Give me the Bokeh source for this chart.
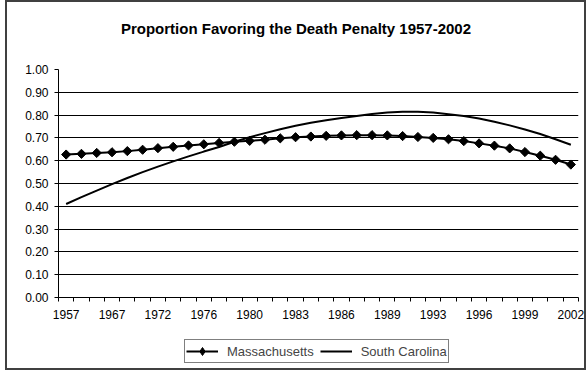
import numpy as np
from bokeh.plotting import figure
from bokeh.layouts import column
from bokeh.models import (FixedTicker, NumeralTickFormatter, Legend, LegendItem,
                          Range1d, ColumnDataSource, InlineStyleSheet, Label,
                          CDSView, IndexFilter)
from bokeh.embed import file_html
from bokeh.resources import INLINE

# Survey years (one category per year with data)
years = [1957, 1960, 1965, 1967, 1969, 1971, 1972, 1973, 1974, 1976, 1977, 1978,
         1980, 1981, 1982, 1983, 1984, 1985, 1986, 1987, 1988, 1989, 1990, 1991,
         1993, 1994, 1995, 1996, 1997, 1998, 1999, 2000, 2001, 2002]
labelled_years = [1957, 1967, 1972, 1976, 1980, 1983, 1986, 1989, 1993, 1996, 1999, 2002]

massachusetts = [0.627, 0.630, 0.634, 0.637, 0.642, 0.648, 0.655, 0.661, 0.667, 0.672,
                 0.678, 0.683, 0.687, 0.692, 0.698, 0.703, 0.706, 0.709, 0.711, 0.712,
                 0.712, 0.711, 0.708, 0.704, 0.700, 0.694, 0.686, 0.676, 0.666, 0.654,
                 0.638, 0.622, 0.604, 0.583]
south_carolina = [0.410, 0.440, 0.469, 0.497, 0.524, 0.550, 0.574, 0.597, 0.619, 0.640,
                  0.660, 0.683, 0.703, 0.721, 0.738, 0.753, 0.766, 0.777, 0.787, 0.796,
                  0.805, 0.811, 0.815, 0.815, 0.811, 0.804, 0.796, 0.785, 0.771, 0.755,
                  0.737, 0.717, 0.694, 0.670]

y_ticks = [0.0, 0.1, 0.2, 0.3, 0.4, 0.5, 0.6, 0.7, 0.8, 0.9, 1.0]

TITLE = "Proportion Favoring the Death Penalty 1957-2002"
FONT = "Liberation Sans"
W = 587
TITLE_H, LEGEND_H = 40, 35
MAIN_H = 370 - TITLE_H - LEGEND_H
BORDER_L, BORDER_R = 58, 9          # plot-area inset, shared by all strips
FRAME_L, FRAME_R = BORDER_L, W - BORDER_R


def bare_figure(height):
    """A frame-only strip (no axes); x units are page pixels."""
    f = figure(width=W, height=height, output_backend="svg", toolbar_location=None,
               x_range=Range1d(FRAME_L, FRAME_R), y_range=Range1d(0, height),
               min_border_left=BORDER_L, min_border_right=BORDER_R,
               min_border_top=0, min_border_bottom=0, outline_line_color=None,
               background_fill_color="white", border_fill_color="white")
    f.axis.visible = False
    f.grid.visible = False
    return f


# ---- title strip
head = bare_figure(TITLE_H)
head.add_layout(Label(x=295.5, y=12, text=TITLE, text_align="center",
                      text_baseline="middle", text_font=FONT, text_font_size="15px",
                      text_font_style="bold", text_color="black"))

# ---- main chart: categories sit at the middle of unit-wide slots
pos = np.arange(len(years)) + 0.5
src = ColumnDataSource(dict(x=pos, year=years, ma=massachusetts, sc=south_carolina))

p = figure(width=W, height=MAIN_H, output_backend="svg", toolbar_location=None,
           x_range=Range1d(0, len(years)), y_range=Range1d(0, 1),
           min_border_left=BORDER_L, min_border_right=BORDER_R, min_border_top=29,
           min_border_bottom=38, outline_line_color=None,
           background_fill_color="white", border_fill_color="white")

p.line("x", "sc", source=src, line_color="black", line_width=2)
p.line("x", "ma", source=src, line_color="black", line_width=2)
p.scatter("x", "ma", source=src, marker="square", angle=np.pi / 4,
          size=6.5, fill_color="black", line_color="black")

# x axis: labels on every third category, tick marks at slot boundaries
label_pos = [float(years.index(y) + 0.5) for y in labelled_years]
p.xaxis.ticker = FixedTicker(ticks=label_pos, minor_ticks=list(range(len(years) + 1)))
p.xaxis.major_label_overrides = {lp: str(y) for lp, y in zip(label_pos, labelled_years)}
p.xaxis.major_tick_line_color = None
p.xaxis.major_tick_out = 4
p.xaxis.minor_tick_out = 4
p.xaxis.minor_tick_in = 0
p.xaxis.minor_tick_line_color = "black"
p.xaxis.major_label_standoff = 8

p.yaxis.ticker = FixedTicker(ticks=y_ticks)
p.yaxis.formatter = NumeralTickFormatter(format="0.00")
p.yaxis.major_tick_out = 4
p.yaxis.major_tick_in = 0
p.yaxis.minor_tick_line_color = None
p.yaxis.major_label_standoff = 6

for ax in (p.xaxis, p.yaxis):
    ax.axis_line_color = "black"
    ax.major_label_text_font = FONT
    ax.major_label_text_font_size = "12px"
    ax.major_label_text_color = "black"

p.xgrid.visible = False
p.ygrid.ticker = FixedTicker(ticks=y_ticks)
p.ygrid.grid_line_color = "black"
p.ygrid.grid_line_width = 1

# ---- legend strip: series renderers holding only their first point, which
# falls outside this strip's pixel-unit frame, so only legend samples show
foot = bare_figure(LEGEND_H)
first = CDSView(filter=IndexFilter(indices=[0]))
k_ma_line = foot.line("x", "ma", source=src, view=first, line_color="black", line_width=2)
k_ma_pts = foot.scatter("x", "ma", source=src, view=first, marker="diamond", size=11,
                        fill_color="black", line_color="black")
k_sc_line = foot.line("x", "sc", source=src, view=first, line_color="black", line_width=2)
legend = Legend(items=[LegendItem(label="Massachusetts", renderers=[k_ma_line, k_ma_pts]),
                       LegendItem(label="South Carolina", renderers=[k_sc_line])],
                orientation="horizontal", location=(184 - FRAME_L, 7),
                label_text_font=FONT, label_text_font_size="13px",
                glyph_width=32, glyph_height=20, label_standoff=9, spacing=6,
                padding=1, margin=0, border_line_color="black", border_line_width=1,
                background_fill_alpha=1)
foot.add_layout(legend, "center")

chart = column(head, p, foot, spacing=0)
# chart-area frame drawn over the whole page
chart.stylesheets = [InlineStyleSheet(css="""
:host { position: relative; }
:host::after {
  content: ""; position: absolute; left: 5px; top: 0px; right: 1px; bottom: 0px;
  border: 2px solid #404040; pointer-events: none; z-index: 50;
}
""")]

open("out.html", "w").write(file_html(chart, INLINE))
